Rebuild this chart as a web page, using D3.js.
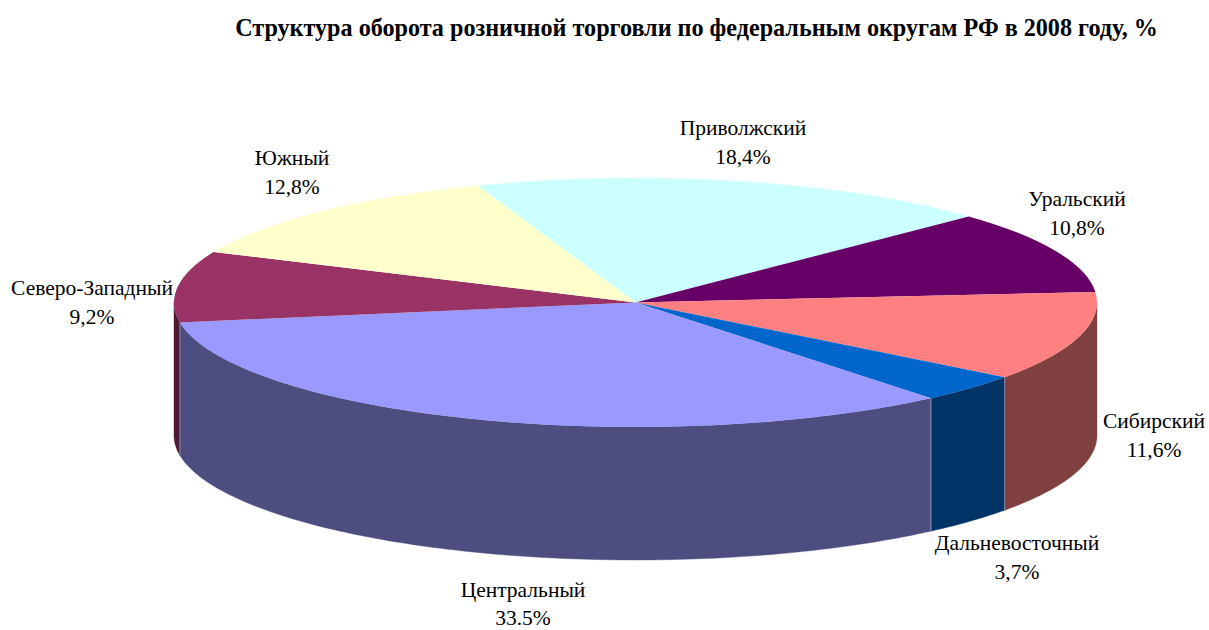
<!DOCTYPE html>
<html><head><meta charset="utf-8">
<script src="https://cdn.jsdelivr.net/npm/d3@7/dist/d3.min.js"></script>
<style>html,body{margin:0;padding:0;background:#fff}svg{display:block}text{font-family:"Liberation Serif",serif;fill:#000}</style>
</head><body><svg id="c" width="1209" height="630"></svg>
<script>
const chartTitle = "Структура оборота розничной торговли по федеральным округам РФ в 2008 году, %";
const categories = ["Приволжский","Уральский","Сибирский","Дальневосточный","Центральный","Северо-Западный","Южный"];
const shares = [18.4,10.8,11.6,3.7,33.5,9.2,12.8];
const shareLabels = ["18,4%","10,8%","11,6%","3,7%","33.5%","9,2%","12,8%"];
const topColors = ["#CCFFFF","#660066","#FF8080","#0066CC","#9999FF","#993366","#FFFFCC"];
const sideColors = ["#668080","#330033","#804040","#003366","#4D4D80","#4D1A33","#808066"];
// label anchor centres and line gaps (layout only)
const labelCentres = [[743,128],[1077,199],[1154,421],[1017,543],[523,590],[92,288],[292,158]];
const labelGaps = [29,29,29,29,28,29,29];

const W=1209,H=630,cx=635.5,cy=302.5,rx=461.5,ry=124.5,depth=133;
const svg=d3.select("#c");
const deg=Math.PI/180;
const pieGen=d3.pie().sort(null).value(d=>d).startAngle(-20*deg).endAngle(340*deg);
const arcs=pieGen(shares);

const xs=d3.scaleLinear().domain([-1,1]).range([cx-rx,cx+rx]);
const ys=d3.scaleLinear().domain([-1,1]).range([cy-ry,cy+ry]);
const ptX=a=>xs(Math.sin(a)), ptY=a=>ys(-Math.cos(a));
const line=d3.line().x(d=>d[0]).y(d=>d[1]);

// side walls: visible on the front half of the ellipse
const walls=[];
arcs.forEach((a,i)=>{
  [[a.startAngle,a.endAngle],[a.startAngle-2*Math.PI,a.endAngle-2*Math.PI]].forEach(([s,e])=>{
    const lo=Math.max(s,90*deg),hi=Math.min(e,270*deg);
    if(hi>lo) walls.push({i,lo,hi});
  });
});
const wallG=svg.append("g");
walls.forEach(w=>{
  const n=Math.max(2,Math.ceil((w.hi-w.lo)/deg));
  const ang=d3.range(n+1).map(k=>w.lo+(w.hi-w.lo)*k/n);
  const pts=ang.map(a=>[ptX(a),ptY(a)]).concat(ang.slice().reverse().map(a=>[ptX(a),ptY(a)+depth]));
  wallG.append("path").attr("d",line(pts)+"Z").attr("fill",sideColors[w.i]).attr("stroke",sideColors[w.i]).attr("stroke-width",0.4);
});
// thin light edges between walls
walls.forEach(w=>{
  [w.lo,w.hi].forEach(a=>{
    if(Math.abs(a-90*deg)<1e-6||Math.abs(a-270*deg)<1e-6) return;
    wallG.append("line").attr("x1",ptX(a)).attr("x2",ptX(a)).attr("y1",ptY(a)).attr("y2",ptY(a)+depth)
      .attr("stroke","#8f8fb0").attr("stroke-width",0.6);
  });
});
// top faces: circular arcs squeezed into the ellipse
const arcGen=d3.arc().innerRadius(0).outerRadius(rx);
svg.append("g").attr("transform",`translate(${cx},${cy}) scale(1,${ry/rx})`)
  .selectAll("path").data(arcs).join("path")
  .attr("d",arcGen).attr("fill",(d,i)=>topColors[i]);

// labels
const lab=svg.append("g").attr("font-size",21.5).attr("text-anchor","middle");
categories.forEach((c,i)=>{
  const [x,y]=labelCentres[i];
  lab.append("text").attr("x",x).attr("y",y+7).text(c);
  lab.append("text").attr("x",x).attr("y",y+7+labelGaps[i]).text(shareLabels[i]);
});
svg.append("text").attr("x",696.5).attr("y",36).attr("text-anchor","middle")
  .attr("font-size",24.15).attr("font-weight","bold").text(chartTitle);
</script></body></html>
